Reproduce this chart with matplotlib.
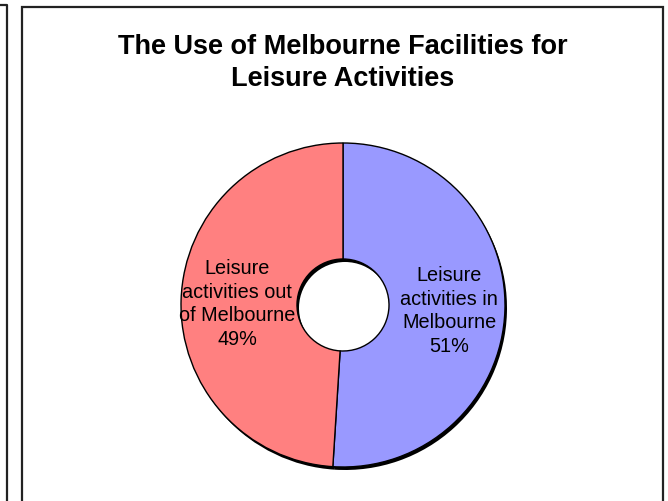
import matplotlib
matplotlib.use("Agg")
import matplotlib.pyplot as plt
from matplotlib.patches import Rectangle

# data
categories = ["Leisure\nactivities in\nMelbourne", "Leisure\nactivities out\nof Melbourne"]
shares = [51, 49]
colors = ["#9999FF", "#FF8080"]
title = "The Use of Melbourne Facilities for\nLeisure Activities"

W, H = 668, 502
fig = plt.figure(figsize=(W / 100, H / 100), dpi=100)
ax = fig.add_axes([0, 0, 1, 1])
ax.set_xlim(0, W)
ax.set_ylim(0, H)
ax.set_aspect("equal")
ax.set_axis_off()

plt.rcParams["font.family"] = ["Liberation Sans", "DejaVu Sans"]

# chart frames (neighbouring chart edge on the left)
ax.add_patch(Rectangle((22, -10), 641, H - 8 + 10, fill=False, lw=1.6, ec="#222222"))
ax.plot([0, 7, 7], [H - 6, H - 6, -5], color="#222222", lw=1.6)

cx, cy, r = 343, H - 306, 162
hole = 46

# shadow
ax.pie(shares, colors=["black", "black"], startangle=90, counterclock=False,
       radius=r, center=(cx + 2, cy - 3),
       wedgeprops=dict(width=r - hole, lw=0), frame=True)
wedges, _ = ax.pie(shares, colors=colors, startangle=90, counterclock=False,
                   radius=r, center=(cx, cy),
                   wedgeprops=dict(width=r - hole, edgecolor="black", lw=1.0), frame=True)
ax.set_xlim(0, W)
ax.set_ylim(0, H)
ax.set_axis_off()

label_pos = [(449, H - 311), (237, H - 304)]
for cat, val, (x, y) in zip(categories, shares, label_pos):
    ax.text(x, y, f"{cat}\n{val}%", ha="center", va="center", fontsize=14.3,
            linespacing=1.33, color="black")

ax.text(343, H - 63, title, ha="center", va="center", fontsize=19.5,
        fontweight="bold", linespacing=1.3)

fig.savefig("out.png", dpi=100)
